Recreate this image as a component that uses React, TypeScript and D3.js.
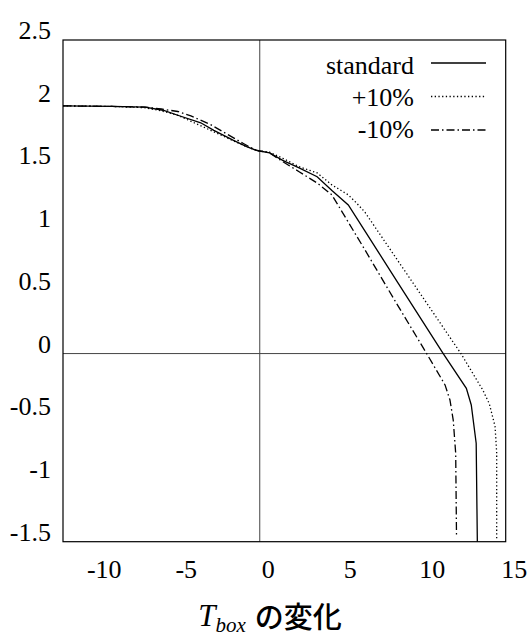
import React, { useRef, useEffect } from 'react'
import * as d3 from 'd3'

// --- data ---
const xTicks = [-10, -5, 0, 5, 10, 15]
const yTicks = [2.5, 2, 1.5, 1, 0.5, 0, -0.5, -1, -1.5]

const standardX = [-12, -9, -7, -5.9, -5, -3.6, -2.8, -1.6, -0.8, -0.2, 0, 0.6, 1.4, 2.4, 3.5, 4.4, 5.4, 6.4, 8.4, 11.19, 12.6, 12.9, 13.2, 13.27]
const standardY = [1.975, 1.97, 1.965, 1.94, 1.9, 1.84, 1.78, 1.7, 1.65, 1.62, 1.615, 1.6, 1.54, 1.48, 1.41, 1.3, 1.185, 0.98, 0.57, 0, -0.277, -0.41, -0.715, -1.5]

const plusX = [-12, -9, -7, -6, -5, -4, -3, -2, -1, -0.3, 0, 0.6, 1.4, 2.4, 3.5, 4.4, 5.4, 5.9, 6.4, 8.4, 12.27, 13.6, 14.0, 14.35, 14.45, 14.45]
const plusY = [1.975, 1.97, 1.96, 1.935, 1.9, 1.84, 1.78, 1.72, 1.66, 1.625, 1.615, 1.605, 1.557, 1.49, 1.44, 1.345, 1.265, 1.2, 1.13, 0.745, 0, -0.29, -0.4, -0.58, -0.79, -1.49]

const minusX = [-12, -9, -7, -6, -5, -4.2, -3, -2, -1, -0.3, 0, 0.6, 1.4, 2.4, 3.5, 4.4, 6.4, 8.25, 10.18, 11.3, 11.6, 11.8, 11.95, 12.0]
const minusY = [1.975, 1.97, 1.965, 1.95, 1.93, 1.895, 1.825, 1.75, 1.675, 1.625, 1.615, 1.6, 1.53, 1.45, 1.36, 1.265, 0.83, 0.42, 0, -0.25, -0.37, -0.53, -0.795, -1.46]

const seriesNames = ['standard', '+10%', '-10%']
const seriesDash = [null, '1.3,2.4', '8,3,1.5,3']

const App = () => {
  const svgRef = useRef<SVGSVGElement>(null)

  useEffect(() => {
    const svg = d3.select(svgRef.current)
    svg.selectAll('*').remove()

    const width = 529
    const height = 639
    const margin = { top: 40, right: 23.3, bottom: 97.3, left: 63 }
    const serif = "'Liberation Serif', Tinos, 'Times New Roman', 'DejaVu Serif', serif"

    svg.attr('width', width).attr('height', height)

    const x = d3.scaleLinear().domain([-12, 15]).range([margin.left, width - margin.right])
    const y = d3.scaleLinear().domain([-1.5, 2.5]).range([height - margin.bottom, margin.top])

    // zero lines
    svg.append('line')
      .attr('x1', x(0)).attr('x2', x(0))
      .attr('y1', y(2.5)).attr('y2', y(-1.5))
      .attr('stroke', '#444').attr('stroke-width', 1)
    svg.append('line')
      .attr('x1', x(-12)).attr('x2', x(15))
      .attr('y1', y(0)).attr('y2', y(0))
      .attr('stroke', '#444').attr('stroke-width', 1)

    // frame
    svg.append('rect')
      .attr('x', x(-12)).attr('y', y(2.5))
      .attr('width', x(15) - x(-12)).attr('height', y(-1.5) - y(2.5))
      .attr('fill', 'none').attr('stroke', '#000').attr('stroke-width', 1.2)

    // tick labels (offset like in the original figure)
    svg.append('g').selectAll('text')
      .data(xTicks).enter().append('text')
      .attr('x', d => x(d) + 8.5)
      .attr('y', 578)
      .attr('text-anchor', 'middle')
      .style('font-family', serif).style('font-size', '26px')
      .text(d => String(d))

    svg.append('g').selectAll('text')
      .data(yTicks).enter().append('text')
      .attr('x', 51)
      .attr('y', d => y(d) - 1)
      .attr('text-anchor', 'end')
      .style('font-family', serif).style('font-size', '26px')
      .text(d => String(d))

    // curves
    const line = d3.line<[number, number]>()
      .x(d => x(d[0]))
      .y(d => y(d[1]))
      .curve(d3.curveLinear)

    const series: [number, number][][] = [
      standardX.map((v, i) => [v, standardY[i]]),
      plusX.map((v, i) => [v, plusY[i]]),
      minusX.map((v, i) => [v, minusY[i]]),
    ]

    series.forEach((pts, i) => {
      const p = svg.append('path')
        .datum(pts)
        .attr('fill', 'none')
        .attr('stroke', '#000')
        .attr('stroke-width', 1.3)
        .attr('d', line)
      if (seriesDash[i]) p.attr('stroke-dasharray', seriesDash[i] as string)
    })

    // legend
    seriesNames.forEach((name, i) => {
      const ly = 63 + i * 33.5
      svg.append('text')
        .attr('x', 414)
        .attr('y', 74 + i * 32)
        .attr('text-anchor', 'end')
        .style('font-family', serif).style('font-size', '26px')
        .text(name)
      const l = svg.append('line')
        .attr('x1', 431).attr('x2', 486)
        .attr('y1', ly).attr('y2', ly)
        .attr('stroke', '#000').attr('stroke-width', 1.3)
      if (seriesDash[i]) l.attr('stroke-dasharray', seriesDash[i] as string)
    })

    // x axis title: T_box の変化
    const title = svg.append('text')
      .attr('x', 270)
      .attr('y', 626)
      .attr('text-anchor', 'middle')
    title.append('tspan')
      .style('font-family', serif).style('font-style', 'italic').style('font-size', '31px')
      .text('T')
    title.append('tspan')
      .style('font-family', serif).style('font-style', 'italic').style('font-size', '21px')
      .attr('dx', 0).attr('dy', 6)
      .text('box')
    title.append('tspan')
      .style('font-family', "'Noto Sans CJK JP', sans-serif").style('font-weight', '500').style('font-size', '29px')
      .attr('dx', 9).attr('dy', -4)
      .text('の変化')
  }, [])

  return (
    <svg ref={svgRef} style={{ position: 'absolute', left: 0, top: 0, display: 'block' }}></svg>
  )
}

export default App
